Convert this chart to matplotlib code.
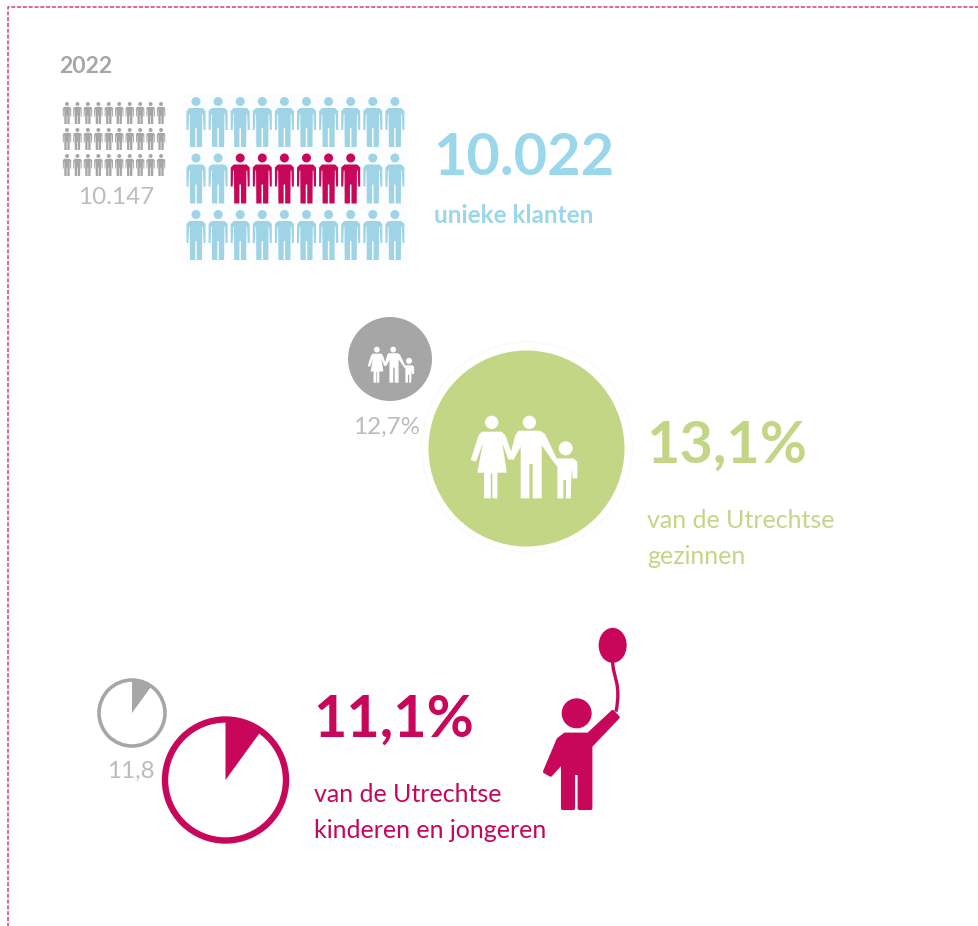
import matplotlib
matplotlib.use("Agg")
import matplotlib.pyplot as plt
from matplotlib.patches import Circle, Ellipse, Polygon, Wedge, Rectangle, PathPatch
from matplotlib.path import Path

plt.rcParams['font.family'] = ['Lato', 'DejaVu Sans']

GREY = "#a6a6a6"
LIGHT = "#bcbcbc"
BLUE = "#9fd3e6"
BLUE_TXT = "#9ad7ea"
RED = "#c8075a"
GREEN = "#c3d686"

year = "2022"
grid_rows = 3
grid_cols = 10
highlight_row = 1
highlight_cols = [2, 3, 4, 5, 6, 7]
clients_prev = "10.147"
clients_now = "10.022"
clients_label = "unieke klanten"
families_prev = "12,7%"
families_now = "13,1%"
families_label = ["van de Utrechtse", "gezinnen"]
youth_prev = "11,8"
youth_now = "11,1%"
youth_label = ["van de Utrechtse", "kinderen en jongeren"]
# the clock icon shows the same slice for both years, it is not to scale
clock_slice_pct = 10

# outlines of the icons, in pixels of the 3x crop
PERSON = [(-.13, .22), (.13, .22), (.19, .28), (.19, .66), (.15, .66), (.14, .34), (.125, .34),
          (.12, 1), (.015, 1), (.015, .62), (-.015, .62), (-.015, 1), (-.12, 1), (-.125, .34),
          (-.14, .34), (-.15, .66), (-.19, .66), (-.19, .28)]
WOMAN = [(425, 365), (485, 365), (497, 378), (520, 445), (506, 450), (487, 400), (500, 488),
         (472, 488), (472, 565), (457, 565), (457, 490), (452, 490), (452, 565), (432, 565),
         (432, 488), (412, 488), (428, 400), (408, 455), (392, 450), (415, 378)]
MAN = [(535, 362), (600, 362), (615, 372), (650, 445), (640, 455), (605, 405), (605, 565),
       (578, 565), (578, 462), (568, 462), (568, 565), (542, 565), (542, 410), (520, 450),
       (508, 445), (525, 378)]
CHILD = [(650, 445), (700, 445), (712, 455), (712, 505), (698, 505), (695, 475), (692, 565),
         (678, 565), (678, 510), (670, 510), (670, 565), (652, 565), (652, 470), (640, 455)]
BOY = [(105, 343), (175, 343), (248, 275), (264, 292), (182, 378), (182, 565), (148, 565),
       (148, 460), (130, 460), (130, 565), (98, 565), (98, 425), (62, 465), (44, 455), (85, 358)]


def person(ax, cx, top, h, color):
    ax.add_patch(Circle((cx, top + .09 * h), .09 * h, color=color, lw=0))
    ax.add_patch(Polygon([(cx + x * h, top + y * h) for x, y in PERSON], color=color, lw=0))


def person_grid(ax, x0, dx, y0, dy, h, color, marked=()):
    for r in range(grid_rows):
        for c in range(grid_cols):
            col = RED if (r, c) in marked else color
            person(ax, x0 + c * dx, y0 + r * dy, h, col)


def family(ax, x, y, s, color="white"):
    def t(p):
        return (x + (p[0] - 392) * s, y + (p[1] - 317) * s)
    for shape in (WOMAN, MAN, CHILD):
        ax.add_patch(Polygon([t(p) for p in shape], color=color, lw=0))
    for hx, hy, r in [(455, 337, 20), (568, 337, 20), (677, 415, 21)]:
        ax.add_patch(Circle(t((hx, hy)), r * s, color=color, lw=0))


def clock(ax, cx, cy, r, lw, value, color):
    ax.add_patch(Circle((cx, cy), r, fill=False, ec=color, lw=lw))
    # y axis is flipped, so the wedge runs from 12 o'clock clockwise in positive degrees
    ax.add_patch(Wedge((cx, cy), r, -90, -90 + value * 3.6, color=color, lw=0))


fig = plt.figure(figsize=(9.79, 9.26), dpi=100)
ax = fig.add_axes([0, 0, 1, 1])
ax.set_xlim(0, 979)
ax.set_ylim(926, 0)
ax.axis("off")

ax.plot([979, 8, 8], [6.5, 6.5, 926], color="#d8397f", lw=1.1, ls=(0, (2.6, 1.2)))

# klanten
ax.text(59, 73, year, color=GREY, fontsize=16.5, fontweight="bold")
person_grid(ax, 67, 10.45, 102, 26, 22, GREY)
ax.text(116.5, 204, clients_prev, color=LIGHT, fontsize=17.5, ha="center")
ax.add_patch(Rectangle((183, 92), 225, 172, color="#fbfdfe", lw=0))
marked = [(highlight_row, c) for c in highlight_cols]
person_grid(ax, 196, 22.1, 97, 56.5, 50, BLUE, marked)
ax.text(433, 175, clients_now, color=BLUE_TXT, fontsize=41.5, fontweight="bold")
ax.text(434, 223, clients_label, color=BLUE_TXT, fontsize=17.5, fontweight="bold")

# gezinnen
ax.add_patch(Circle((390, 359), 42, color=GREY, lw=0))
family(ax, 367.7, 346.7, .145)
ax.text(387, 434, families_prev, color=LIGHT, fontsize=17.5, ha="center")
ax.add_patch(Circle((527, 447), 105, fill=False, ec="#fafbf6", lw=1))
ax.add_patch(Circle((526.5, 448.5), 98, color=GREEN, lw=0))
family(ax, 470.7, 415.7, 1 / 3)
ax.text(646, 463, families_now, color=GREEN, fontsize=41.5, fontweight="bold")
ax.text(647, 528, families_label[0], color=GREEN, fontsize=18)
ax.text(647, 564, families_label[1], color=GREEN, fontsize=18)

# kinderen en jongeren
clock(ax, 132, 713, 33, 2.6, clock_slice_pct, GREY)
ax.text(131, 778, youth_prev, color=LIGHT, fontsize=17.5, ha="center")
clock(ax, 225.5, 780, 60.5, 4.6, clock_slice_pct, RED)
ax.text(313, 737, youth_now, color=RED, fontsize=41.5, fontweight="bold")
ax.text(314, 802, youth_label[0], color=RED, fontsize=18)
ax.text(314, 838, youth_label[1], color=RED, fontsize=18)


def bx(p):
    return (530 + p[0] / 3, 620 + p[1] / 3)


ax.add_patch(Polygon([bx(p) for p in BOY], fc=RED, ec=RED, lw=2.5, joinstyle="round"))
ax.add_patch(Circle(bx((140, 280)), 15, color=RED, lw=0))
ax.add_patch(Ellipse(bx((248, 76)), 28, 35, color=RED, lw=0))
string = Path([bx((248, 125)), bx((248, 170)), bx((275, 190)), bx((258, 275))],
              [Path.MOVETO, Path.CURVE4, Path.CURVE4, Path.CURVE4])
ax.add_patch(PathPatch(string, fill=False, ec=RED, lw=2.4))

fig.savefig("out.png", dpi=100)
